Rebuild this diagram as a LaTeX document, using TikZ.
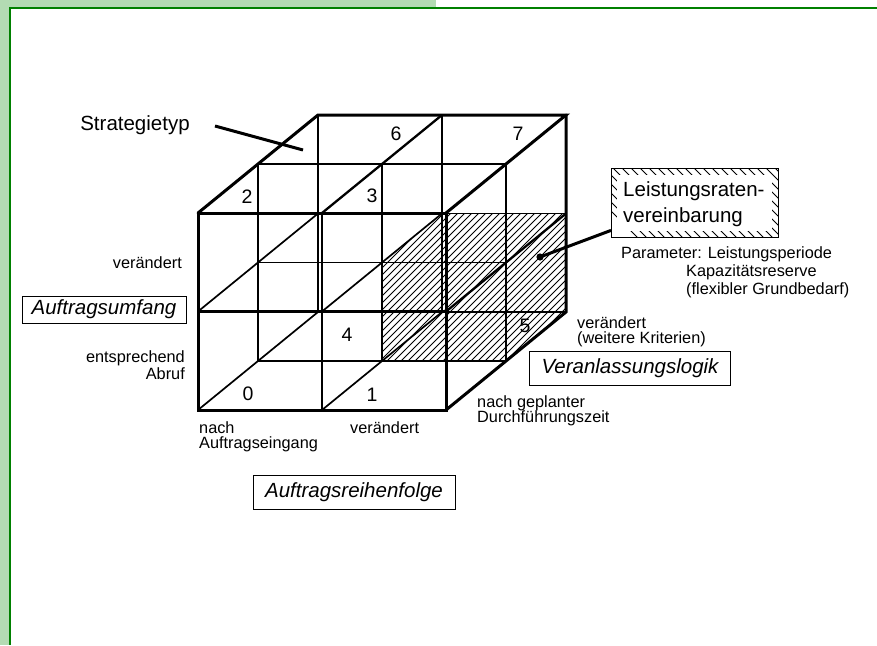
\documentclass[tikz,border=0pt]{standalone}
\usepackage{fontspec}
\setmainfont{Liberation Sans}
\usetikzlibrary{calc}
\definecolor{framelight}{RGB}{179,219,179}
\definecolor{framedark}{RGB}{0,128,0}
\begin{document}
\begin{tikzpicture}[x=1pt,y=-1pt,
  lbl/.style={font=\fontsize{16.3}{18}\selectfont, inner sep=0pt},
  biglbl/.style={font=\fontsize{20.5}{23}\selectfont, inner sep=0pt},
  num/.style={font=\fontsize{19.5}{21}\selectfont, inner sep=0pt},
  axisbox/.style={draw, line width=0.9pt, inner sep=0pt,
    font=\fontsize{20.5}{23}\selectfont\itshape},
  thinline/.style={line width=1.7pt},
  midline/.style={line width=2.3pt},
  frontmid/.style={line width=2.8pt},
  cubeedge/.style={line width=3pt, line cap=round},
  hatchline/.style={line width=0.9pt}
]
\useasboundingbox (0,0) rectangle (877,645);

% page frame
\fill[framelight] (0,0) rectangle (436,7);
\fill[framelight] (0,0) rectangle (9,645);
\draw[framedark, line width=2.3pt] (9,7.8) -- (877,7.8);
\draw[framedark, line width=2.2pt] (10,7.8) -- (10,645);

% lattice of the 2x2x2 cube: i = column, j = row, k = depth
\foreach \i in {0,1,2}{\foreach \j in {0,1,2}{\foreach \k in {0,1,2}{
  \coordinate (p\i\j\k) at ({198+124*\i+60*\k},{410-98.5*\j-49*\k});
}}}

% hatched cell (right column, bottom row, back layer)
\begin{scope}
  \clip (p101) -- (p201) -- (p202) -- (p212) -- (p112) -- (p111) -- cycle;
  \foreach \c in {650,657,...,890}
    \draw[hatchline] ({\c-400},400) -- ({\c-200},200);
\end{scope}

% inner lines
\foreach \j/\k in {0/1,0/2,1/1,1/2} \draw[thinline] (p0\j\k) -- (p2\j\k);
\foreach \i/\k in {0/1,0/2,1/1,1/2} \draw[thinline] (p\i0\k) -- (p\i2\k);
\foreach \i/\j in {0/0,0/1,1/0,1/1} \draw[thinline] (p\i\j0) -- (p\i\j2);

% middle lines of the top and right faces
\draw[midline] (p021) -- (p221);
\draw[midline] (p120) -- (p122);
\draw[midline] (p201) -- (p221);
\draw[midline] (p210) -- (p212);

% middle lines of the front face
\draw[frontmid] (p010) -- (p210);
\draw[frontmid] (p100) -- (p120);

% visible outer edges
\draw[cubeedge] (p000) -- (p200) -- (p220) -- (p020) -- cycle;
\draw[cubeedge] (p020) -- (p022) -- (p222) -- (p220);
\draw[cubeedge] (p222) -- (p202) -- (p200);

% cell numbers
\node[num] (n0) at (248,394) {0};
\node[num] (n1) at (372,395) {1};
\node[num] (n2) at (247,197) {2};
\node[num] (n3) at (372,196) {3};
\node[num] (n4) at (347,335) {4};
\node[num] (n5) at (525,326) {5};
\node[num] (n6) at (396,134) {6};
\node[num] (n7) at (518,134) {7};

% strategy type label
\node[biglbl] (strat) at (135,125) {Strategietyp};
\coordinate (stratA) at (215,126);
\coordinate (stratB) at (303,150);
\draw[line width=3pt] (stratA) -- (stratB);

% order volume axis
\node[lbl, anchor=base east] (uv) at (182,268) {verändert};
\node[axisbox, minimum width=164, minimum height=27] (umf) at (104,309.5) {Auftragsumfang};
\node[lbl, anchor=base east] (ue1) at (185,362) {entsprechend};
\node[lbl, anchor=base east] (ue2) at (185,379.5) {Abruf};

% order sequence axis
\node[lbl, anchor=base west] (rn1) at (199,433) {nach};
\node[lbl, anchor=base west] (rn2) at (199,448) {Auftragseingang};
\node[lbl, anchor=base west] (rv) at (350,433) {verändert};
\node[axisbox, minimum width=202, minimum height=34] (reih) at (354,492) {Auftragsreihenfolge};

% initiation logic axis
\node[lbl, anchor=base west] (vn1) at (477,407) {nach geplanter};
\node[lbl, anchor=base west] (vn2) at (477,422) {Durchführungszeit};
\node[lbl, anchor=base west] (vv1) at (577,328) {verändert};
\node[lbl, anchor=base west] (vv2) at (577,343) {(weitere Kriterien)};
\node[axisbox, minimum width=201, minimum height=34] (veran) at (630,368) {Veranlassungslogik};

% performance rate agreement box with hatched border
\node[minimum width=167, minimum height=69, inner sep=0pt, anchor=north west] (lrbox) at (611,168) {};
\begin{scope}
  \clip (lrbox.north west) rectangle (lrbox.south east);
  \foreach \c in {400,409,...,640}
    \draw[line width=0.8pt] ({\c+160},160) -- ({\c+250},250);
\end{scope}
\fill[white] ($(lrbox.north west)+(6,7)$) rectangle ($(lrbox.south east)+(-6,-6)$);
\draw[line width=0.8pt] (lrbox.north west) rectangle (lrbox.south east);
\node[biglbl, anchor=base west] (lr1) at (623,196) {Leistungsraten-};
\node[biglbl, anchor=base west] (lr2) at (623,222) {vereinbarung};

% pointer from the hatched cell to the box
\coordinate (dot) at (540,257);
\fill (dot) circle (3.6);
\draw[line width=3pt] (dot) -- ($(lrbox.south west)+(0,-7)$);

% parameters
\node[lbl, anchor=base west] (par1) at (621,258) {Parameter: Leistungsperiode};
\node[lbl, anchor=base west] (par2) at (686,276) {Kapazitätsreserve};
\node[lbl, anchor=base west] (par3) at (686,294) {(flexibler Grundbedarf)};
\end{tikzpicture}
\end{document}
